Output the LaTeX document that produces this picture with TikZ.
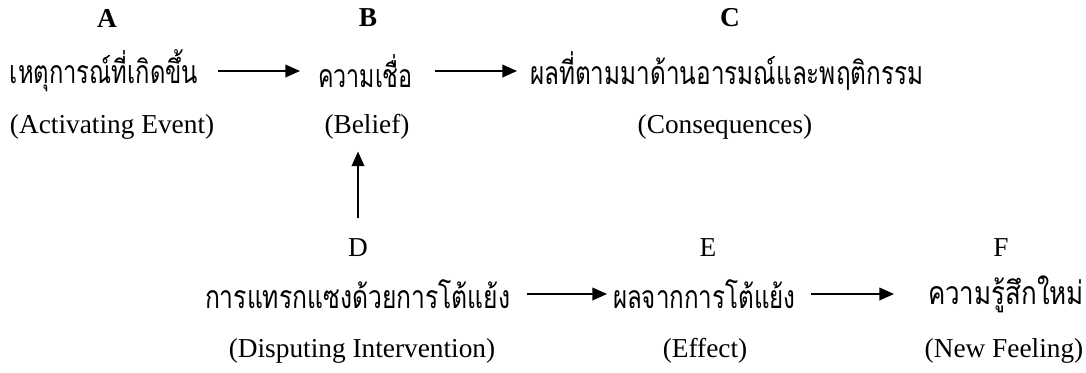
\documentclass[tikz,border=0pt]{standalone}
\usepackage{fontspec}
\usepackage{graphicx}
\setmainfont{Liberation Serif}
\newfontfamily\thaifont[Script=Thai]{Loma}
\usetikzlibrary{arrows.meta}
% Thai label set to a given width, keeping its natural height
\newcommand{\thaiw}[2]{\resizebox{#1}{\height}{\thaifont #2}}
\begin{document}
\begin{tikzpicture}[x=0.75pt,y=-0.75pt,
  every node/.style={inner sep=0pt, outer sep=0pt},
  letter/.style={font=\fontsize{20.5}{24}\selectfont\bfseries},
  plainletter/.style={font=\fontsize{20.5}{24}\selectfont},
  thai/.style={font=\fontsize{24}{28}\selectfont, anchor=west},
  eng/.style={font=\fontsize{20.5}{24}\selectfont},
  arr/.style={line width=1.3pt, -{Triangle[length=11pt, width=9.5pt]}}]
\useasboundingbox (0,0) rectangle (1086,372);

% top row: A -> B -> C
\node[letter] (la) at (107,18) {A};
\node[letter] (lb) at (368,18) {B};
\node[letter] (lc) at (730,18) {C};
\node[thai] (ta) at (10,71) {\thaiw{141pt}{เหตุการณ์ที่เกิดขึ้น}};
\node[thai] (tb) at (318,71) {\thaiw{71pt}{ความเชื่อ}};
\node[thai] (tc) at (530,71) {\thaiw{295pt}{ผลที่ตามมาด้านอารมณ์และพฤติกรรม}};
\node[eng, anchor=west] (ea) at (10,127) {(Activating Event)};
\node[eng] (eb) at (367,127) {(Belief)};
\node[eng] (ec) at (725,127) {(Consequences)};

% bottom row: D -> E -> F
\node[plainletter] (ld) at (358,248) {D};
\node[plainletter] (le) at (708,248) {E};
\node[plainletter] (lf) at (1001,248) {F};
\node[thai] (td) at (205,294) {\thaiw{229pt}{การแทรกแซงด้วยการโต้แย้ง}};
\node[thai] (te) at (613,294) {\thaiw{137pt}{ผลจากการโต้แย้ง}};
\node[thai] (tf) at (928,294) {\thaiw{117pt}{ความรู้สึกใหม่}};
\node[eng] (ed) at (362,351) {(Disputing Intervention)};
\node[eng] (ee) at (705,351) {(Effect)};
\node[eng] (ef) at (1004,351) {(New Feeling)};

% connectors
\draw[arr, shorten <=15pt, shorten >=13.5pt] (ta.east) -- (tb.west);
\draw[arr, shorten <=16.5pt, shorten >=9.75pt] (tb.east) -- (tc.west);
\draw[arr, shorten <=12.75pt, shorten >=4.5pt] (td.east) -- (te.west);
\draw[arr, shorten <=11.25pt, shorten >=25.5pt] (te.east) -- (tf.west);
\draw[arr, shorten <=16pt, shorten >=9pt] (ld.north) -- (ld.north |- eb.south);
\end{tikzpicture}
\end{document}
